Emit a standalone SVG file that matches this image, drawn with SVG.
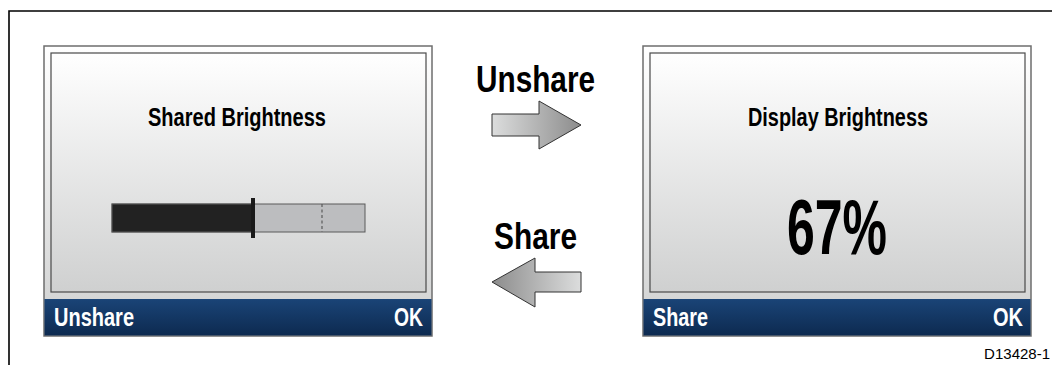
<svg xmlns="http://www.w3.org/2000/svg" width="1052" height="365" viewBox="0 0 1052 365">
<defs>
<linearGradient id="scr" x1="0" y1="0" x2="0" y2="1">
<stop offset="0" stop-color="#ffffff"/>
<stop offset="1" stop-color="#cfd0d0"/>
</linearGradient>
<linearGradient id="bar" x1="0" y1="0" x2="0" y2="1">
<stop offset="0" stop-color="#1a4477"/>
<stop offset="1" stop-color="#0d2a50"/>
</linearGradient>
<linearGradient id="arR" x1="0" y1="0" x2="1" y2="0">
<stop offset="0" stop-color="#dcdddd"/>
<stop offset="1" stop-color="#8c8c8c"/>
</linearGradient>
<linearGradient id="arL" x1="0" y1="0" x2="1" y2="0">
<stop offset="0" stop-color="#8c8c8c"/>
<stop offset="1" stop-color="#dcdddd"/>
</linearGradient>
<style>
.t{font-family:"Liberation Sans",Arial,sans-serif;font-weight:bold;}
.w{fill:#ffffff;}
.k{fill:#000000;}
.outer{fill:url(#scr);stroke:#6e6e6e;stroke-width:1.5;}
.inner{fill:url(#scr);stroke:#4a4a4a;stroke-width:1.2;}
.bb{fill:url(#bar);}
.arrow{stroke:#333;stroke-width:1;}
</style>
</defs>
<rect width="1052" height="365" fill="#ffffff"/>
<path d="M9,365 V11 H1052" fill="none" stroke="#000" stroke-width="1.6"/>

<g id="screen-shared">
<rect class="outer" x="44" y="46" width="388" height="290"/>
<rect class="inner" x="51" y="53" width="375" height="239"/>
<rect class="bb" x="44.5" y="299" width="387" height="36.5"/>
<text class="t k" x="148" y="126" font-size="25" textLength="178" lengthAdjust="spacingAndGlyphs">Shared Brightness</text>
<rect x="112" y="204" width="253" height="28" fill="#bcbdbf" stroke="#5a5a5a" stroke-width="1"/>
<rect x="112" y="204" width="140" height="28" fill="#222222" stroke="#5a5a5a" stroke-width="1"/>
<rect x="251" y="198" width="4" height="40" fill="#1a1a1a"/>
<line x1="322" y1="204" x2="322" y2="232" stroke="#5a5a5a" stroke-width="1.2" stroke-dasharray="3,2.5"/>
<text class="t w" x="54" y="326" font-size="26" textLength="80" lengthAdjust="spacingAndGlyphs">Unshare</text>
<text class="t w" x="394" y="326" font-size="26" textLength="29" lengthAdjust="spacingAndGlyphs">OK</text>
</g>

<g id="screen-display">
<rect class="outer" x="643" y="46" width="388" height="290"/>
<rect class="inner" x="650" y="53" width="375" height="239"/>
<rect class="bb" x="643.5" y="299" width="387" height="36.5"/>
<text class="t k" x="748" y="126" font-size="25" textLength="180" lengthAdjust="spacingAndGlyphs">Display Brightness</text>
<text class="t k" x="787" y="254" font-size="78" textLength="100" lengthAdjust="spacingAndGlyphs">67%</text>
<text class="t w" x="653" y="326" font-size="26" textLength="55" lengthAdjust="spacingAndGlyphs">Share</text>
<text class="t w" x="993" y="326" font-size="26" textLength="30" lengthAdjust="spacingAndGlyphs">OK</text>
</g>

<g id="connectors">
<g id="unshare-arrow">
<text class="t k" x="476" y="92" font-size="36" textLength="119" lengthAdjust="spacingAndGlyphs">Unshare</text>
<polygon class="arrow" fill="url(#arR)" points="492,114 539,114 539,101 581,125 539,149 539,136 492,136"/>
</g>
<g id="share-arrow">
<text class="t k" x="494" y="249" font-size="36" textLength="83" lengthAdjust="spacingAndGlyphs">Share</text>
<polygon class="arrow" fill="url(#arL)" points="492,282 535,258 535,272 581,272 581,292 535,292 535,307"/>
</g>
</g>

<text x="1050" y="359" font-family="Liberation Sans,Arial,sans-serif" font-size="15" text-anchor="end" fill="#000">D13428-1</text>
</svg>
